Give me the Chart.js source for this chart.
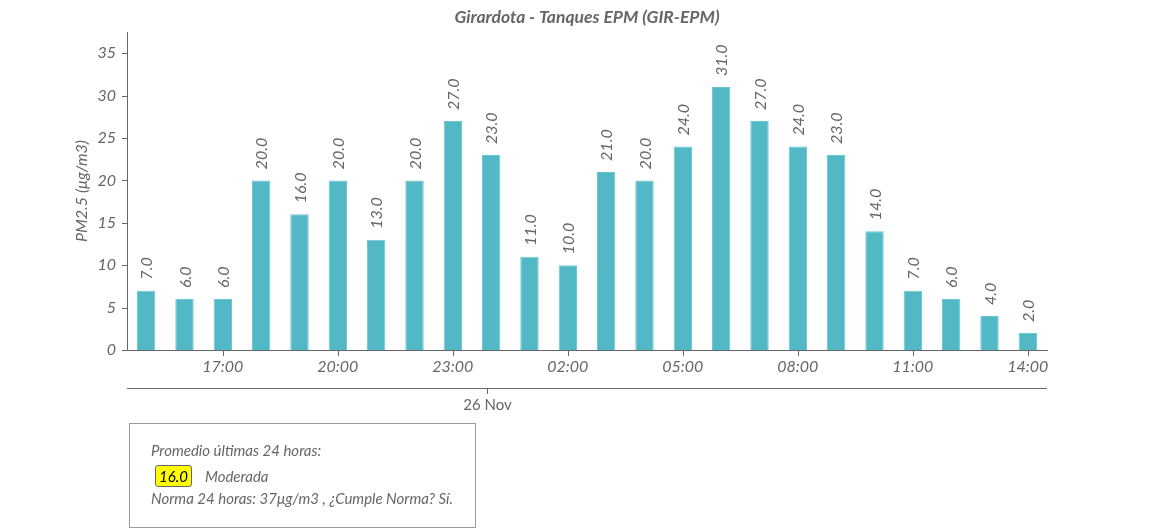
<!DOCTYPE html>
<html>
<head>
<meta charset="utf-8">
<script src="https://cdn.jsdelivr.net/npm/chart.js@4"></script>
<style>
  body { margin: 0; background: #fff; font-family: Lato, sans-serif; }
  #wrap { position: relative; width: 1150px; height: 530px; }
  #c { position: absolute; left: 0; top: 0; }
  .box {
    position: absolute; left: 129px; top: 423px; width: 345px; height: 103px;
    border: 1px solid #999; color: #666; font-style: italic; font-size: 15px;
  }
  .box .l1 { position: absolute; left: 21px; top: 17px; }
  .box .l2 { position: absolute; left: 25px; top: 41px; }
  .box .l3 { position: absolute; left: 21px; top: 65px; }
  .badge {
    display: inline-block; background: #ffff00; color: #000; border: 1px solid #666;
    border-radius: 3px; padding: 1px 3px; margin-right: 13px;
  }
</style>
</head>
<body>
<div id="wrap">
  <canvas id="c" width="1150" height="530"></canvas>
  <div class="box">
    <div class="l1">Promedio últimas 24 horas:</div>
    <div class="l2"><span class="badge">16.0</span>Moderada</div>
    <div class="l3">Norma 24 horas: 37μg/m3 , ¿Cumple Norma? Sí.</div>
  </div>
</div>
<script>
// horas (25 nov 15:00 -> 26 nov 14:00)
const horas = ['15:00','16:00','17:00','18:00','19:00','20:00','21:00','22:00','23:00',
               '00:00','01:00','02:00','03:00','04:00','05:00','06:00','07:00','08:00',
               '09:00','10:00','11:00','12:00','13:00','14:00'];
const pm25 = [7, 6, 6, 20, 16, 20, 13, 20, 27, 23, 11, 10, 21, 20, 24, 31, 27, 24, 23, 14, 7, 6, 4, 2];
const titulo = 'Girardota - Tanques EPM (GIR-EPM)';
const tituloY = 'PM2.5 (μg/m3)';
const etiquetaDia = '26 Nov';
const indiceDia = 9; // 00:00

const gris = '#666';

// etiquetas verticales encima de las barras + titulos + eje de dias
const extras = {
  id: 'extras',
  afterDatasetsDraw(chart) {
    const ctx = chart.ctx;
    const meta = chart.getDatasetMeta(0);
    const area = chart.chartArea;
    ctx.save();
    ctx.fillStyle = gris;
    ctx.font = 'italic 16px Lato';
    ctx.textAlign = 'left';
    ctx.textBaseline = 'middle';
    meta.data.forEach((bar, i) => {
      ctx.save();
      ctx.translate(bar.x + 1, bar.y - 11);
      ctx.rotate(-Math.PI / 2);
      ctx.fillText(pm25[i].toFixed(1), 0, 0);
      ctx.restore();
    });

    // titulo del eje y
    ctx.save();
    ctx.translate(82, (area.top + area.bottom) / 2);
    ctx.rotate(-Math.PI / 2);
    ctx.textAlign = 'center';
    ctx.fillText(tituloY, 0, 0);
    ctx.restore();

    // titulo
    ctx.font = 'italic bold 17.5px Lato';
    ctx.textAlign = 'center';
    ctx.fillText(titulo, (area.left + area.right) / 2, 17);

    // marcas del eje y
    const y = chart.scales.y;
    ctx.strokeStyle = gris;
    ctx.lineWidth = 1;
    ctx.beginPath();
    y.ticks.forEach(t => {
      const py = Math.round(y.getPixelForValue(t.value)) + 0.5;
      ctx.moveTo(area.left - 5, py); ctx.lineTo(area.left, py);
    });
    // marcas del eje x solo donde hay etiqueta
    const x = chart.scales.x;
    horas.forEach((h, i) => {
      if (i % 3 !== 2) return;
      const px = Math.round(x.getPixelForValue(i)) + 0.5;
      ctx.moveTo(px, area.bottom); ctx.lineTo(px, area.bottom + 6);
    });
    ctx.stroke();

    // eje de dias
    const y0 = 388;
    ctx.beginPath();
    ctx.moveTo(area.left, y0 + 0.5);
    ctx.lineTo(area.right, y0 + 0.5);
    const tx = Math.round(x.getPixelForValue(indiceDia) - 4) + 0.5;
    ctx.moveTo(tx, y0);
    ctx.lineTo(tx, y0 + 6);
    ctx.stroke();
    ctx.font = '15px Lato';
    ctx.fillText(etiquetaDia, tx, y0 + 17);
    ctx.restore();
  }
};

new Chart(document.getElementById('c'), {
  type: 'bar',
  data: {
    labels: horas,
    datasets: [{
      label: 'PM2.5',
      data: pm25,
      backgroundColor: '#53b8c6',
      borderColor: '#6cc6d2',
      borderWidth: 1,
      barPercentage: 0.48,
      categoryPercentage: 1
    }]
  },
  options: {
    responsive: false,
    animation: false,
    layout: { padding: { top: 32, right: 103, left: 0, bottom: 0 } },
    plugins: { legend: { display: false }, tooltip: { enabled: false } },
    scales: {
      x: {
        afterFit(s) { s.height = 180; },
        grid: { display: false, tickLength: 6 },
        border: { color: gris },
        ticks: {
          autoSkip: false, maxRotation: 0, color: gris, padding: 1,
          font: { family: 'Lato', style: 'italic', size: 16 },
          callback(v, i) { return i % 3 === 2 ? horas[i] : ''; }
        }
      },
      y: {
        min: 0, max: 37.5,
        afterFit(s) { s.width = 127; },
        grid: { display: false },
        border: { color: gris },
        ticks: {
          stepSize: 5, includeBounds: false, color: gris,
          font: { family: 'Lato', style: 'italic', size: 16 }
        }
      }
    }
  },
  plugins: [extras]
});
</script>
</body>
</html>
